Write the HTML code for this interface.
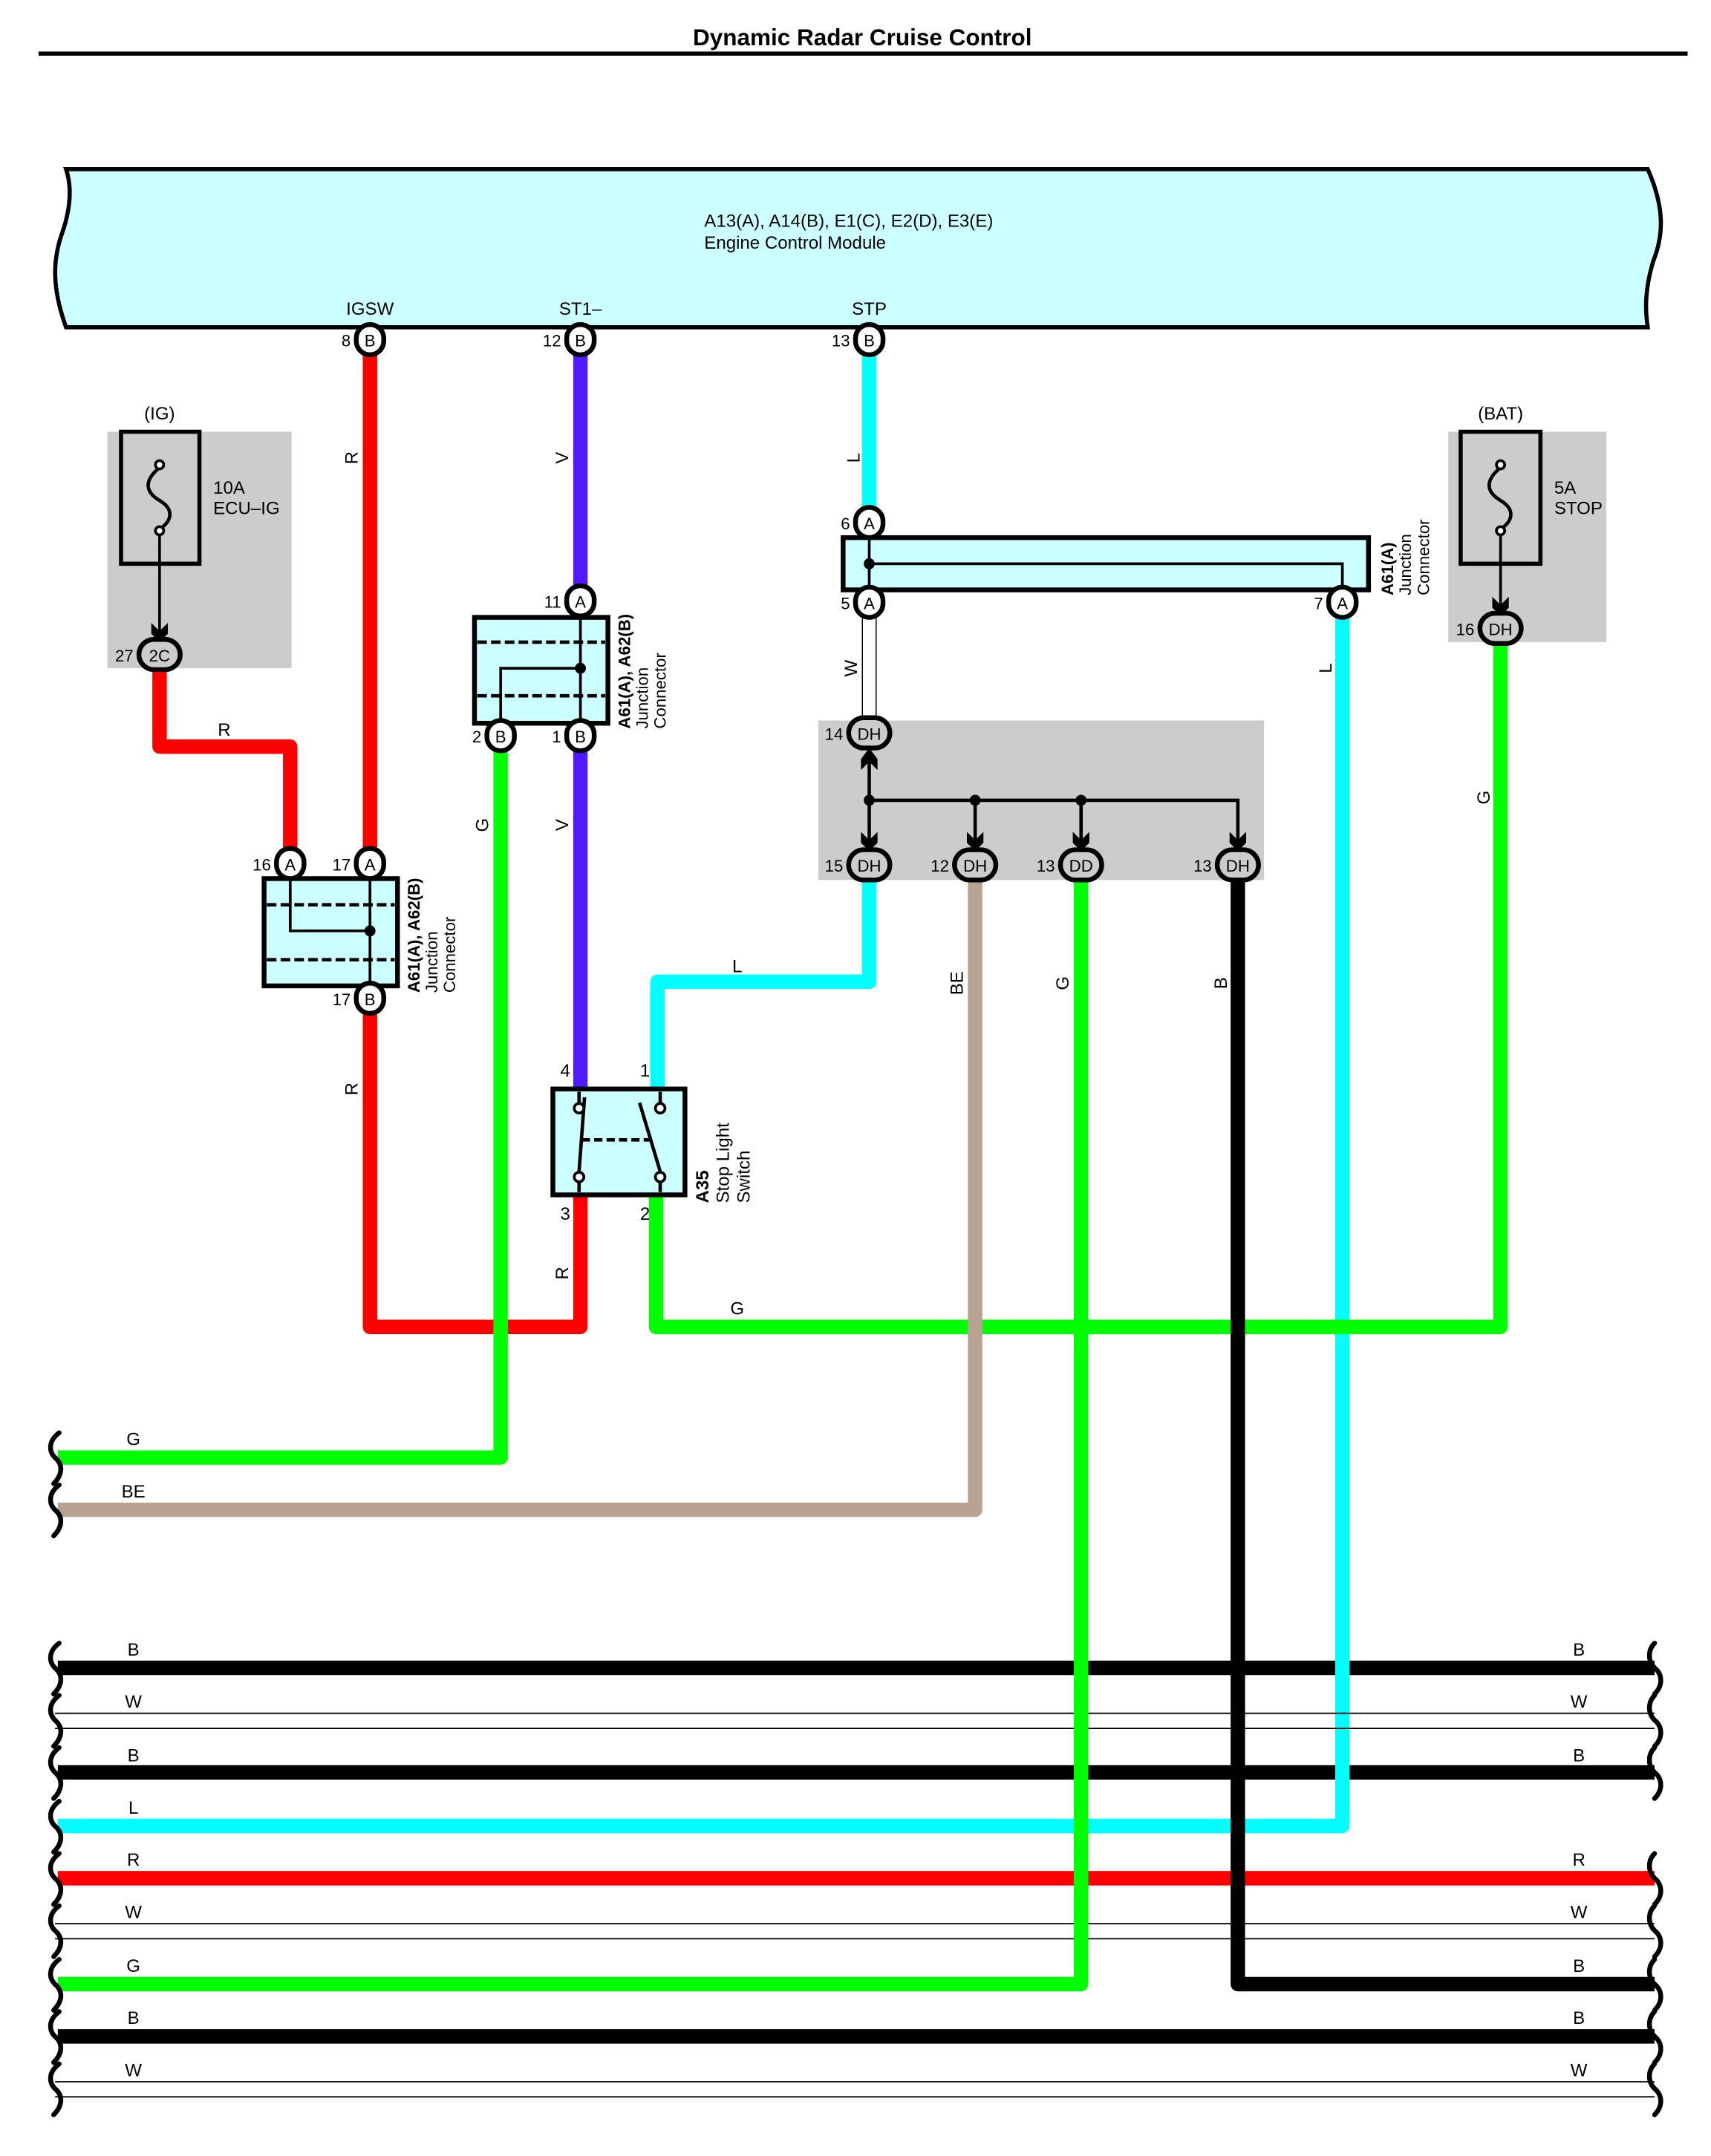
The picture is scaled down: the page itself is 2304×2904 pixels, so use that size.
<!DOCTYPE html>
<html><head><meta charset="utf-8"><style>
html,body{margin:0;padding:0;background:#fff}
svg{display:block}
text{font-family:"Liberation Sans",sans-serif;fill:#000}
</style></head><body>
<svg xmlns="http://www.w3.org/2000/svg" width="2304" height="2904" viewBox="0 0 1244 1568">
<defs>
<g id="br"><path d="M43 -18 C35 -12 35 -4 41 1 C46 6 45 13 39 19" fill="none" stroke="#000" stroke-width="3.5" stroke-linecap="round"/></g>
<g id="brr"><path d="M1203 -18 C1198 -13 1198 -5 1203 0 C1209 5 1209 13 1203 19" fill="none" stroke="#000" stroke-width="3.5" stroke-linecap="round"/></g>
<polygon id="ar" points="-6,-12 0,-6 6,-12 6,-4 0,2 -6,-4" fill="#000"/>
</defs>

<!-- Title -->
<text x="627" y="33" font-size="17" font-weight="bold" text-anchor="middle">Dynamic Radar Cruise Control</text>
<rect x="28" y="37.5" width="1199" height="3" fill="#000"/>

<!-- ECM -->
<path d="M48 123 L1198 123 C1210 150 1210 170 1202 190 C1196 210 1196 225 1198 238 L48 238 C38 210 38 190 45 170 C52 150 52 135 48 123 Z" fill="#ccffff" stroke="#000" stroke-width="3"/>
<text x="512" y="165" font-size="13">A13(A), A14(B), E1(C), E2(D), E3(E)</text>
<text x="512" y="181" font-size="13">Engine Control Module</text>
<text x="269" y="229" font-size="13" text-anchor="middle">IGSW</text>
<text x="422" y="229" font-size="13" text-anchor="middle">ST1–</text>
<text x="632" y="229" font-size="13" text-anchor="middle">STP</text>

<!-- gray boxes -->
<rect x="78" y="314" width="134" height="172" fill="#cccccc"/>
<rect x="1053" y="314" width="115" height="153" fill="#cccccc"/>
<rect x="595" y="524" width="324" height="116" fill="#cccccc"/>

<!-- Fuses -->
<text x="116" y="305" font-size="13" text-anchor="middle">(IG)</text>
<rect x="88" y="314" width="57" height="96" fill="none" stroke="#000" stroke-width="3"/>
<path d="M116 340 C104 350 106 358 116 364 C126 370 126 378 116 385" fill="none" stroke="#000" stroke-width="2.5"/>
<circle cx="116" cy="338" r="3" fill="#fff" stroke="#000" stroke-width="2"/>
<circle cx="116" cy="386" r="3" fill="#fff" stroke="#000" stroke-width="2"/>
<line x1="116" y1="389" x2="116" y2="464" stroke="#000" stroke-width="2"/>
<use href="#ar" x="116" y="465"/>
<text x="155" y="359" font-size="13">10A</text>
<text x="155" y="374" font-size="13">ECU–IG</text>

<text x="1091" y="305" font-size="13" text-anchor="middle">(BAT)</text>
<rect x="1062" y="314" width="58" height="96" fill="none" stroke="#000" stroke-width="3"/>
<path d="M1091 340 C1079 350 1081 358 1091 364 C1101 370 1101 378 1091 385" fill="none" stroke="#000" stroke-width="2.5"/>
<circle cx="1091" cy="338" r="3" fill="#fff" stroke="#000" stroke-width="2"/>
<circle cx="1091" cy="386" r="3" fill="#fff" stroke="#000" stroke-width="2"/>
<line x1="1091" y1="389" x2="1091" y2="445" stroke="#000" stroke-width="2"/>
<use href="#ar" x="1091" y="446"/>
<text x="1130" y="359" font-size="13">5A</text>
<text x="1130" y="374" font-size="13">STOP</text>

<!-- Horizontal bus lines -->
<g stroke-width="10.5" fill="none" stroke-linejoin="round">
<line x1="42" y1="1213" x2="1203" y2="1213" stroke="#000"/>
<line x1="42" y1="1289" x2="1203" y2="1289" stroke="#000"/>
<line x1="42" y1="1366" x2="1203" y2="1366" stroke="#ff0000"/>
<line x1="42" y1="1481" x2="1203" y2="1481" stroke="#000"/>
<polyline points="42,1328 976,1328 976,438" stroke="#00ffff"/>
</g>
<g stroke="#000" stroke-width="1">
<line x1="40" y1="1246" x2="1203" y2="1246"/><line x1="40" y1="1257" x2="1203" y2="1257"/>
<line x1="40" y1="1399" x2="1203" y2="1399"/><line x1="40" y1="1410" x2="1203" y2="1410"/>
<line x1="40" y1="1514" x2="1203" y2="1514"/><line x1="40" y1="1525" x2="1203" y2="1525"/>
</g>

<!-- Wires -->
<g stroke-width="10.5" fill="none" stroke-linejoin="round">
<polyline points="116,486 116,543 211,543 211,628" stroke="#ff0000"/>
<polyline points="269,726 269,965 422,965 422,869" stroke="#ff0000"/>
<line x1="269" y1="247" x2="269" y2="628" stroke="#ff0000"/>
<line x1="422" y1="247" x2="422" y2="437" stroke="#4f1aff"/>
<line x1="422" y1="535" x2="422" y2="792" stroke="#4f1aff"/>
<polyline points="1091,467 1091,965 477,965 477,869" stroke="#00ff00"/>
<polyline points="42,1060 364,1060 364,535" stroke="#00ff00"/>
<polyline points="42,1098 709,1098 709,640" stroke="#b8a290"/>
<polyline points="42,1443 786,1443 786,640" stroke="#00ff00"/>
<polyline points="1203,1443 900,1443 900,640" stroke="#000"/>
<line x1="632" y1="247" x2="632" y2="380" stroke="#00ffff"/>
<polyline points="632,640 632,714 478,714 478,792" stroke="#00ffff"/>
</g>
<!-- W wire -->
<rect x="627" y="448" width="10" height="85" fill="#fff" stroke="#000" stroke-width="0.8"/>

<!-- break marks left -->
<use href="#br" y="1060"/><use href="#br" y="1098"/>
<use href="#br" y="1213"/><use href="#br" y="1251"/><use href="#br" y="1289"/><use href="#br" y="1328"/>
<use href="#br" y="1366"/><use href="#br" y="1404"/><use href="#br" y="1443"/><use href="#br" y="1481"/><use href="#br" y="1519"/>
<!-- right -->
<use href="#brr" y="1213"/><use href="#brr" y="1251"/><use href="#brr" y="1289"/>
<use href="#brr" y="1366"/><use href="#brr" y="1404"/><use href="#brr" y="1443"/><use href="#brr" y="1481"/><use href="#brr" y="1519"/>

<!-- bus labels -->
<g font-size="13" text-anchor="middle">
<text x="97" y="1204">B</text><text x="97" y="1242">W</text><text x="97" y="1281">B</text><text x="97" y="1319">L</text>
<text x="97" y="1357">R</text><text x="97" y="1395">W</text><text x="97" y="1434">G</text><text x="97" y="1472">B</text><text x="97" y="1510">W</text>
<text x="1148" y="1204">B</text><text x="1148" y="1242">W</text><text x="1148" y="1281">B</text>
<text x="1148" y="1357">R</text><text x="1148" y="1395">W</text><text x="1148" y="1434">B</text><text x="1148" y="1472">B</text><text x="1148" y="1510">W</text>
<text x="97" y="1051">G</text><text x="97" y="1089">BE</text>
<text x="163" y="535">R</text><text x="536" y="707">L</text><text x="536" y="956">G</text>
</g>
<!-- vertical wire labels -->
<g font-size="13" text-anchor="middle">
<text transform="translate(260,333) rotate(-90)">R</text>
<text transform="translate(413,333) rotate(-90)">V</text>
<text transform="translate(625,333) rotate(-90)">L</text>
<text transform="translate(623,486) rotate(-90)">W</text>
<text transform="translate(355,600) rotate(-90)">G</text>
<text transform="translate(413,600) rotate(-90)">V</text>
<text transform="translate(968,486) rotate(-90)">L</text>
<text transform="translate(1083,580) rotate(-90)">G</text>
<text transform="translate(700,715) rotate(-90)">BE</text>
<text transform="translate(777,715) rotate(-90)">G</text>
<text transform="translate(892,715) rotate(-90)">B</text>
<text transform="translate(260,792) rotate(-90)">R</text>
<text transform="translate(413,926) rotate(-90)">R</text>
</g>

<!-- Junction connector 1 (ST1) -->
<rect x="345" y="449" width="97" height="77" fill="#ccffff" stroke="#000" stroke-width="3.5"/>
<g stroke="#000" stroke-width="2.5" stroke-dasharray="7,3"><line x1="347" y1="467" x2="440" y2="467"/><line x1="347" y1="506" x2="440" y2="506"/></g>
<polyline points="422,449 422,526" fill="none" stroke="#000" stroke-width="2"/>
<polyline points="422,486 364,486 364,526" fill="none" stroke="#000" stroke-width="2"/>
<circle cx="422" cy="486" r="4" fill="#000"/>
<g font-size="12"><text transform="translate(458,530) rotate(-90)" font-weight="bold">A61(A), A62(B)</text>
<text transform="translate(471,530) rotate(-90)">Junction</text><text transform="translate(484,530) rotate(-90)">Connector</text></g>

<!-- Junction connector 2 -->
<rect x="192" y="639" width="97" height="78" fill="#ccffff" stroke="#000" stroke-width="3.5"/>
<g stroke="#000" stroke-width="2.5" stroke-dasharray="7,3"><line x1="194" y1="658" x2="287" y2="658"/><line x1="194" y1="698" x2="287" y2="698"/></g>
<line x1="269" y1="639" x2="269" y2="717" stroke="#000" stroke-width="2"/>
<polyline points="211,639 211,677 269,677" fill="none" stroke="#000" stroke-width="2"/>
<circle cx="269" cy="677" r="4" fill="#000"/>
<g font-size="12"><text transform="translate(305,722) rotate(-90)" font-weight="bold">A61(A), A62(B)</text>
<text transform="translate(318,722) rotate(-90)">Junction</text><text transform="translate(331,722) rotate(-90)">Connector</text></g>

<!-- A61(A) long junction -->
<rect x="613" y="391" width="382" height="38" fill="#ccffff" stroke="#000" stroke-width="3.5"/>
<line x1="632" y1="391" x2="632" y2="429" stroke="#000" stroke-width="2"/>
<polyline points="632,410 976,410 976,429" fill="none" stroke="#000" stroke-width="2"/>
<circle cx="632" cy="410" r="4" fill="#000"/>
<g font-size="12"><text transform="translate(1013,433) rotate(-90)" font-weight="bold">A61(A)</text>
<text transform="translate(1026,433) rotate(-90)">Junction</text><text transform="translate(1039,433) rotate(-90)">Connector</text></g>

<!-- splice tree -->
<g stroke="#000" stroke-width="2.5" fill="none">
<line x1="632" y1="548" x2="632" y2="612"/>
<polyline points="632,582 900,582 900,612"/>
<line x1="709" y1="582" x2="709" y2="612"/>
<line x1="786" y1="582" x2="786" y2="612"/>
</g>
<polygon points="626,560 632,554 638,560 638,552 632,544 626,552" fill="#000"/>
<circle cx="632" cy="582" r="4" fill="#000"/><circle cx="709" cy="582" r="4" fill="#000"/><circle cx="786" cy="582" r="4" fill="#000"/>
<use href="#ar" x="632" y="617"/><use href="#ar" x="709" y="617"/><use href="#ar" x="786" y="617"/><use href="#ar" x="900" y="617"/>

<!-- Stop light switch -->
<rect x="402" y="792" width="96" height="77" fill="#ccffff" stroke="#000" stroke-width="3.5"/>
<g stroke="#000" stroke-width="2.5" fill="none">
<line x1="421" y1="794" x2="421" y2="803"/><line x1="480" y1="794" x2="480" y2="803"/>
<line x1="421" y1="860" x2="421" y2="867"/><line x1="480" y1="860" x2="480" y2="867"/>
<line x1="425" y1="798" x2="421" y2="852"/>
<line x1="465" y1="802" x2="480" y2="852"/>
<line x1="423" y1="829" x2="472" y2="829" stroke-dasharray="6,3"/>
</g>
<g fill="#fff" stroke="#000" stroke-width="2"><circle cx="421" cy="806" r="3.5"/><circle cx="480" cy="806" r="3.5"/><circle cx="421" cy="856" r="3.5"/><circle cx="480" cy="856" r="3.5"/></g>
<g font-size="13" text-anchor="middle"><text x="411" y="783">4</text><text x="469" y="783">1</text><text x="411" y="887">3</text><text x="469" y="887">2</text></g>
<g font-size="13"><text transform="translate(515,875) rotate(-90)" font-weight="bold">A35</text>
<text transform="translate(530,875) rotate(-90)">Stop Light</text>
<text transform="translate(545,875) rotate(-90)">Switch</text></g>

<!-- connector pins -->
<g stroke="#000" stroke-width="3.5">
<rect x="259" y="236" width="20" height="22" rx="10" fill="#fff"/>
<rect x="412" y="236" width="20" height="22" rx="10" fill="#fff"/>
<rect x="622" y="236" width="20" height="22" rx="10" fill="#fff"/>
<rect x="622" y="369" width="20" height="22" rx="10" fill="#fff"/>
<rect x="622" y="427" width="20" height="22" rx="10" fill="#fff"/>
<rect x="966" y="427" width="20" height="22" rx="10" fill="#fff"/>
<rect x="412" y="426" width="20" height="22" rx="10" fill="#fff"/>
<rect x="412" y="524" width="20" height="22" rx="10" fill="#fff"/>
<rect x="354" y="524" width="20" height="22" rx="10" fill="#fff"/>
<rect x="201" y="617" width="20" height="22" rx="10" fill="#fff"/>
<rect x="259" y="617" width="20" height="22" rx="10" fill="#fff"/>
<rect x="259" y="715" width="20" height="22" rx="10" fill="#fff"/>
<rect x="101" y="465" width="30" height="22" rx="11" fill="#ccc"/>
<rect x="1076" y="446" width="30" height="22" rx="11" fill="#ccc"/>
<rect x="617" y="522" width="30" height="22" rx="11" fill="#ccc"/>
<rect x="617" y="618" width="30" height="22" rx="11" fill="#ccc"/>
<rect x="694" y="618" width="30" height="22" rx="11" fill="#ccc"/>
<rect x="771" y="618" width="30" height="22" rx="11" fill="#ccc"/>
<rect x="885" y="618" width="30" height="22" rx="11" fill="#ccc"/>
</g>
<g font-size="12" text-anchor="middle">
<text x="269" y="252">B</text><text x="422" y="252">B</text><text x="632" y="252">B</text>
<text x="632" y="385">A</text><text x="632" y="443">A</text><text x="976" y="443">A</text>
<text x="422" y="442">A</text><text x="422" y="540">B</text><text x="364" y="540">B</text>
<text x="211" y="633">A</text><text x="269" y="633">A</text><text x="269" y="731">B</text>
<text x="116" y="481">2C</text><text x="1091" y="462">DH</text><text x="632" y="538">DH</text>
<text x="632" y="634">DH</text><text x="709" y="634">DH</text><text x="786" y="634">DD</text><text x="900" y="634">DH</text>
</g>
<g font-size="12" text-anchor="end">
<text x="255" y="252">8</text><text x="408" y="252">12</text><text x="618" y="252">13</text>
<text x="618" y="385">6</text><text x="618" y="443">5</text><text x="962" y="443">7</text>
<text x="408" y="442">11</text><text x="408" y="540">1</text><text x="350" y="540">2</text>
<text x="197" y="633">16</text><text x="255" y="633">17</text><text x="255" y="731">17</text>
<text x="97" y="481">27</text><text x="1072" y="462">16</text><text x="613" y="538">14</text>
<text x="613" y="634">15</text><text x="690" y="634">12</text><text x="767" y="634">13</text><text x="881" y="634">13</text>
</g>
</svg>
</body></html>
